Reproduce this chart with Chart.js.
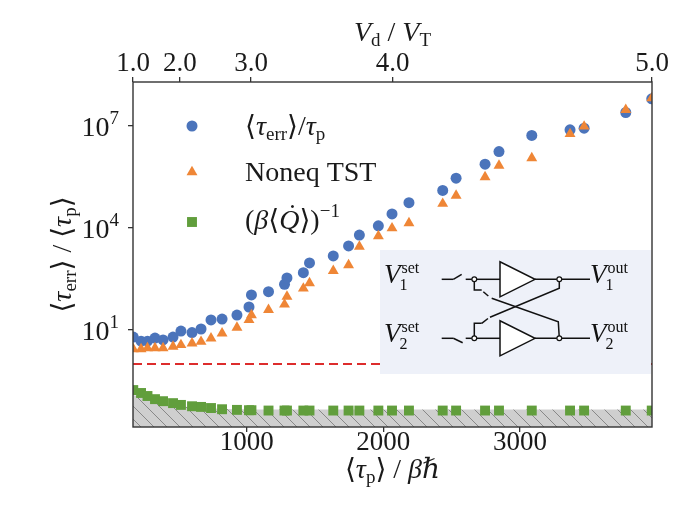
<!DOCTYPE html>
<html><head><meta charset="utf-8">
<script src="https://cdn.jsdelivr.net/npm/chart.js@4.4.0/dist/chart.umd.min.js"></script>
<style>html,body{margin:0;padding:0;background:#fff;}</style>
</head><body>
<canvas id="c" width="680" height="526"></canvas>
<script>
// ---- data ----
const tauP = [170, 227, 274, 329, 388, 461, 519, 600, 666, 739, 820, 929, 1017, 1035, 1160, 1277, 1295, 1415, 1460, 1634, 1746, 1825, 1964, 2064, 2188, 2435, 2533, 2745, 2847, 3087, 3367, 3470, 3775, 3965];
const tauErrRatio = [6.2, 4.7, 4.7, 5.8, 5.1, 6.2, 9.3, 8.4, 10.7, 19.7, 20.9, 27.5, 47.4, 107, 134, 219, 339, 484, 933, 1500, 2950, 6170, 11500, 25700, 55000, 1.26e5, 2.88e5, 7.41e5, 1.74e6, 5.19e6, 7.59e6, 8.51e6, 2.45e7, 6.17e7];
const noneqTST = [2.75, 2.75, 2.95, 2.95, 2.95, 3.24, 3.63, 4.07, 4.53, 5.7, 7.94, 11.7, 19.7, 27.5, 38.9, 56.2, 95.5, 166, 240, 550, 813, 2820, 5750, 9770, 13800, 51300, 89100, 3.09e5, 6.76e5, 1.12e6, 5.75e6, 9.55e6, 2.95e7, 6.46e7];
const invHeatRate = [0.172, 0.141, 0.115, 0.093, 0.081, 0.071, 0.063, 0.0575, 0.055, 0.051, 0.047, 0.045, 0.044, 0.044, 0.043, 0.043, 0.043, 0.043, 0.043, 0.043, 0.043, 0.043, 0.043, 0.043, 0.043, 0.043, 0.043, 0.043, 0.043, 0.043, 0.043, 0.043, 0.043, 0.043];
const boundTau = [168, 240, 320, 420, 540, 680, 850, 1100, 1500, 3967];
const boundVal = [0.125, 0.098, 0.080, 0.066, 0.057, 0.051, 0.048, 0.0465, 0.046, 0.046];
const refLevel = [1, 1];
const refTau = [168, 3967];
const xRange = [168, 3967];
const yRange = [0.01413, 1.93e8];
const xTicks = [1000, 2000, 3000];
const yTicks = [1e1, 1e4, 1e7];
const yTickExp = ['1', '4', '7'];
const topTickTau = [168, 512, 1032, 2069, 3967];
const topTickLabels = ['1.0', '2.0', '3.0', '4.0', '5.0'];
const legendLabels = ['tau_err/tau_p', 'Noneq TST', '(beta<Qdot>)^-1'];

// ---- styles ----
const BLUE = '#4b74bb', ORANGE = '#ef8636', GREEN = '#619e3c', RED = '#dd2c2c', INK = '#333333';
const SERIF = '"Liberation Serif","DejaVu Serif","DejaVu Sans",serif';
function F(size, italic) { return (italic ? 'italic ' : '') + size + 'px ' + SERIF; }

function rich(ctx, segs, x, y, align) {
  let w = 0;
  for (const s of segs) { ctx.font = s.f; s.w = ctx.measureText(s.t).width + (s.k || 0); w += s.w; }
  let cx = align === 'center' ? x - w / 2 : align === 'right' ? x - w : x;
  ctx.textAlign = 'left'; ctx.textBaseline = 'alphabetic';
  for (const s of segs) { ctx.font = s.f; ctx.fillText(s.t, cx, y + (s.dy || 0)); s.x = cx; cx += s.w; }
  return segs;
}

function hatch() {
  const s = 13, c = document.createElement('canvas');
  c.width = s; c.height = s;
  const g = c.getContext('2d');
  g.fillStyle = '#cfcfcf'; g.fillRect(0, 0, s, s);
  g.strokeStyle = '#808080'; g.lineWidth = 0.9;
  g.beginPath();
  for (const o of [-s, 0, s]) { g.moveTo(o - 1, -1); g.lineTo(o + s + 1, s + 1); }
  g.stroke();
  return g.createPattern(c, 'repeat');
}

function drawCircuit(ctx, ca) {
  const ox = ca.right - 272, oy = ca.top + 168;
  ctx.save();
  ctx.fillStyle = '#eef1f9';
  ctx.fillRect(ox, oy, ca.right - 1 - ox, 124);
  ctx.translate(ox, oy);
  ctx.strokeStyle = '#111'; ctx.fillStyle = '#111'; ctx.lineWidth = 1.5; ctx.lineJoin = 'miter';
  const L = (pts) => { ctx.beginPath(); ctx.moveTo(pts[0][0], pts[0][1]); for (let i = 1; i < pts.length; i++) ctx.lineTo(pts[i][0], pts[i][1]); ctx.stroke(); };
  const yT = 29.3, yB = 88.3, xl = 94.3, xr = 179.3;
  // inputs with switches
  L([[61.7, yT], [73.3, yT]]); L([[73.3, yT], [81.7, yT - 5]]); L([[85.7, yT], [xl, yT]]);
  L([[61.7, yB], [73.3, yB]]); L([[73.3, yB], [82.7, yB + 4.5]]); L([[85.7, yB], [xl, yB]]);
  // to buffers
  L([[xl, yT], [120, yT]]); L([[xl, yB], [120, yB]]);
  // buffers
  for (const yc of [yT, yB]) {
    ctx.beginPath(); ctx.moveTo(120, yc - 17.5); ctx.lineTo(120, yc + 17.5); ctx.lineTo(155, yc); ctx.closePath();
    ctx.fillStyle = '#fff'; ctx.fill(); ctx.stroke();
  }
  // outputs
  L([[155, yT], [210, yT]]); L([[155, yB], [210, yB]]);
  // feedback: top-left hook -> bottom-right
  L([[xl, yT], [xl, 40], [101.7, 40]]); L([[103.3, 41.7], [108.3, 46]]);
  L([[111.7, 48.3], [178.3, 71.7], [xr, yB]]);
  // feedback: top-right -> bottom-left hook
  L([[xr, yT], [xr, 38.3], [110, 67.3]]); L([[108, 68.5], [101.7, 73.3]]);
  L([[101.7, 73.3], [xl, 73.3], [xl, yB]]);
  // nodes
  for (const [nx, ny] of [[xl, yT], [xl, yB], [xr, yT], [xr, yB]]) {
    ctx.beginPath(); ctx.arc(nx, ny, 2.4, 0, Math.PI * 2); ctx.fillStyle = '#fff'; ctx.fill(); ctx.lineWidth = 1.2; ctx.stroke(); ctx.lineWidth = 1.5;
  }
  // labels
  ctx.fillStyle = '#111';
  const lab = (x, base, sup, sub) => {
    ctx.font = F(27, true); ctx.textAlign = 'left'; ctx.textBaseline = 'alphabetic';
    ctx.fillText('V', x, base);
    const w = ctx.measureText('V').width;
    ctx.font = F(16, false);
    ctx.fillText(sup, x + w + 1, base - 10);
    ctx.fillText(sub, x + w - 1, base + 7);
  };
  lab(4, yT + 4, 'set', '1'); lab(4, yB + 4, 'set', '2');
  lab(210, yT + 4, 'out', '1'); lab(210, yB + 4, 'out', '2');
  ctx.restore();
}

const decor = {
  id: 'decor',
  afterDatasetsDraw(chart) {
    const ctx = chart.ctx, ca = chart.chartArea;
    drawCircuit(ctx, ca);
    // legend
    const mx = ca.left + 59;
    const rows = [ca.top + 44, ca.top + 90, ca.top + 140];
    const styles = [['circle', 5.5, BLUE], ['triangle', 6.3, ORANGE], ['rect', 7.0, GREEN]];
    ctx.save();
    styles.forEach((s, i) => {
      ctx.fillStyle = s[2]; ctx.strokeStyle = s[2]; ctx.lineWidth = 0;
      Chart.helpers.drawPoint(ctx, { pointStyle: s[0], radius: s[1], rotation: 0, borderWidth: 0 }, mx, rows[i]);
    });
    ctx.fillStyle = '#1a1a1a';
    const tx = ca.left + 112;
    rich(ctx, [
      { t: '\u27E8', f: F(28) }, { t: '\u03C4', f: F(28, true) }, { t: 'err', f: F(19), dy: 5 }, { t: '\u27E9', f: F(28) },
      { t: '/', f: F(28) }, { t: '\u03C4', f: F(28, true) }, { t: 'p', f: F(19), dy: 5 }
    ], tx, rows[0] + 9, 'left');
    rich(ctx, [{ t: 'Noneq TST', f: F(28) }], tx, rows[1] + 8.5, 'left');
    const segs = rich(ctx, [
      { t: '(', f: F(28) }, { t: '\u03B2', f: F(28, true) }, { t: '\u27E8', f: F(28) }, { t: 'Q', f: F(28, true) },
      { t: '\u27E9', f: F(28) }, { t: ')', f: F(28) }, { t: '\u22121', f: F(19), dy: -12 }
    ], tx, rows[2] + 7, 'left');
    const q = segs[3];
    ctx.font = F(28); ctx.textAlign = 'center';
    ctx.fillText('\u02D9', q.x + q.w / 2 + 3, rows[2] + 1);
    ctx.restore();
  },
  afterDraw(chart) {
    const ctx = chart.ctx, ca = chart.chartArea, sx = chart.scales.x, sx2 = chart.scales.x2, sy = chart.scales.y;
    ctx.save();
    // frame
    ctx.strokeStyle = INK; ctx.lineWidth = 1.4;
    ctx.strokeRect(ca.left, ca.top, ca.right - ca.left, ca.bottom - ca.top);
    ctx.fillStyle = '#1a1a1a';
    // bottom tick labels
    ctx.font = F(27); ctx.textAlign = 'center'; ctx.textBaseline = 'alphabetic';
    sx.ticks.forEach(t => ctx.fillText(String(t.value), sx.getPixelForValue(t.value), ca.bottom + 23));
    // top tick labels
    sx2.ticks.forEach((t, i) => ctx.fillText(topTickLabels[i], sx2.getPixelForValue(t.value), ca.top - 11));
    // y tick labels
    sy.ticks.forEach((t, i) => {
      const py = sy.getPixelForValue(t.value);
      rich(ctx, [{ t: '10', f: F(28) }, { t: yTickExp[i], f: F(19), dy: -12 }], ca.left - 14, py + 10, 'right');
    });
    // bottom title
    rich(ctx, [
      { t: '\u27E8', f: F(28) }, { t: '\u03C4', f: F(28, true) }, { t: 'p', f: F(19), dy: 5 }, { t: '\u27E9', f: F(28) },
      { t: ' / ', f: F(28) }, { t: '\u03B2', f: F(28, true) }, { t: '\u210F', f: F(28, true) }
    ], (ca.left + ca.right) / 2, ca.bottom + 51, 'center');
    // top title
    rich(ctx, [
      { t: 'V', f: F(28, true) }, { t: 'd', f: F(19), dy: 5 }, { t: ' / ', f: F(28) },
      { t: 'V', f: F(28, true) }, { t: 'T', f: F(19), dy: 5 }
    ], (ca.left + ca.right) / 2, ca.top - 41, 'center');
    // y title
    ctx.translate(62, (ca.top + ca.bottom) / 2);
    ctx.rotate(-Math.PI / 2);
    rich(ctx, [
      { t: '\u27E8', f: F(28) }, { t: '\u03C4', f: F(28, true) }, { t: 'err', f: F(19), dy: 5 }, { t: '\u27E9', f: F(28) },
      { t: ' / ', f: F(28) },
      { t: '\u27E8', f: F(28) }, { t: '\u03C4', f: F(28, true) }, { t: 'p', f: F(19), dy: 5 }, { t: '\u27E9', f: F(28) }
    ], 0, 9, 'center');
    ctx.restore();
  }
};

const tickGrid = { drawOnChartArea: false, drawTicks: true, tickLength: 5, color: INK, lineWidth: 1.3 };
const pts = (ys) => tauP.map((x, i) => ({ x, y: ys[i] }));

new Chart(document.getElementById('c'), {
  type: 'scatter',
  data: {
    datasets: [
      { label: legendLabels[1], data: pts(noneqTST), pointStyle: 'triangle', pointRadius: 6.3, backgroundColor: ORANGE, borderWidth: 0, order: 0, clip: 0 },
      { label: legendLabels[0], data: pts(tauErrRatio), pointStyle: 'circle', pointRadius: 5.5, backgroundColor: BLUE, borderWidth: 0, order: 1, clip: 0 },
      { label: legendLabels[2], data: pts(invHeatRate), pointStyle: 'rect', pointRadius: 7.0, backgroundColor: GREEN, borderWidth: 0, order: 2, clip: 0 },
      { type: 'line', label: 'ref', data: refTau.map((x, i) => ({ x, y: refLevel[i] })), borderColor: RED, borderDash: [9, 5], borderWidth: 2, pointRadius: 0, fill: false, order: 3, clip: 0 },
      { type: 'line', label: 'bound', data: boundTau.map((x, i) => ({ x, y: boundVal[i] })), borderWidth: 0, borderColor: 'rgba(0,0,0,0)', backgroundColor: hatch(), fill: 'start', pointRadius: 0, tension: 0.3, order: 4, clip: 0 }
    ]
  },
  options: {
    responsive: false, animation: false, devicePixelRatio: 1,
    layout: { padding: { left: 0, right: 28, top: 0, bottom: 0 } },
    plugins: { legend: { display: false }, tooltip: { enabled: false } },
    scales: {
      x: {
        type: 'linear', position: 'bottom', min: xRange[0], max: xRange[1],
        afterBuildTicks: s => { s.ticks = xTicks.map(v => ({ value: v })); },
        afterFit: s => { s.height = 99; },
        ticks: { display: false }, grid: tickGrid, border: { display: false }
      },
      x2: {
        type: 'linear', position: 'top', axis: 'x', min: xRange[0], max: xRange[1],
        afterBuildTicks: s => { s.ticks = topTickTau.map(v => ({ value: v })); },
        afterFit: s => { s.height = 82; },
        ticks: { display: false }, grid: tickGrid, border: { display: false }
      },
      y: {
        type: 'logarithmic', position: 'left', min: yRange[0], max: yRange[1],
        afterBuildTicks: s => { s.ticks = yTicks.map(v => ({ value: v })); },
        afterFit: s => { s.width = 133; },
        ticks: { display: false }, grid: tickGrid, border: { display: false }
      }
    }
  },
  plugins: [decor]
});
</script>
</body></html>
